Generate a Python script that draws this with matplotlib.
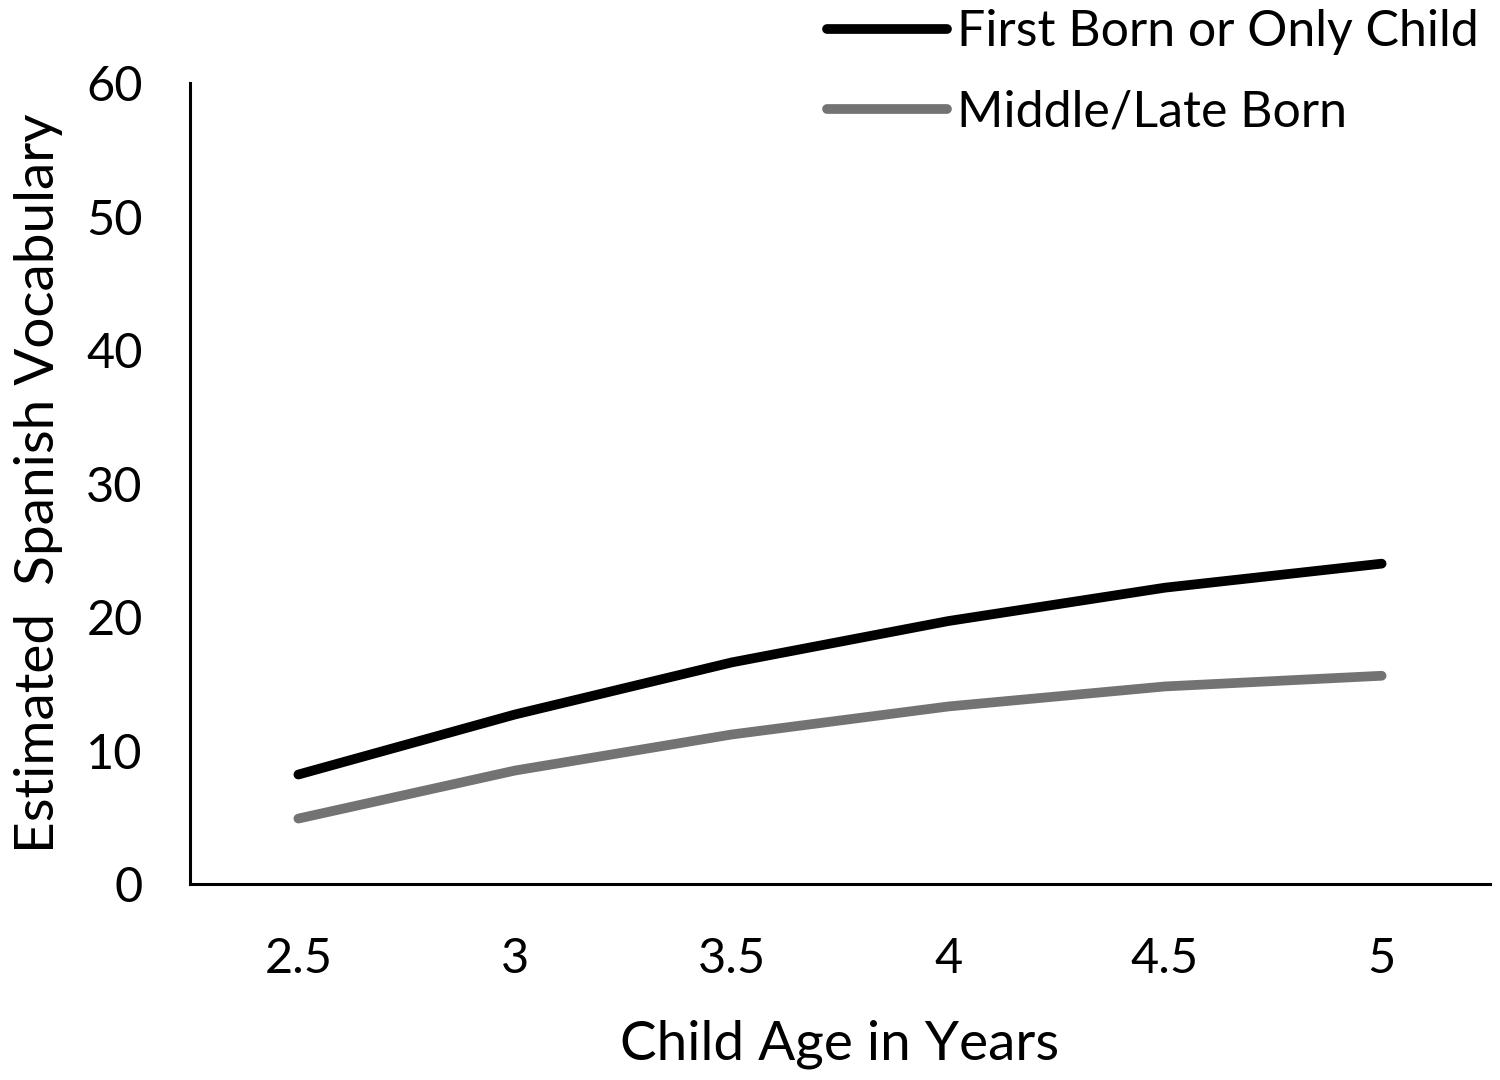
import numpy as np
import matplotlib.pyplot as plt

plt.rcParams['font.family'] = ['Lato', 'DejaVu Sans']

# data
ages = ['2.5', '3', '3.5', '4', '4.5', '5']
first_born = [8.2, 12.7, 16.6, 19.7, 22.2, 24.0]
middle_late = [4.9, 8.5, 11.2, 13.3, 14.8, 15.6]

fig = plt.figure(figsize=(15, 10.8), dpi=100)
ax = fig.add_axes([0.1267, 0.1815, 0.8666, 0.7415])

x = np.arange(len(ages))
l1, = ax.plot(x, first_born, color='black', lw=7, solid_capstyle='round',
              label='First Born or Only Child')
l2, = ax.plot(x, middle_late, color='#737373', lw=7, solid_capstyle='round',
              label='Middle/Late Born')

ax.set_xlim(-0.5, len(ages) - 0.5)
ax.set_ylim(0, 60)
ax.set_yticks(range(0, 61, 10))
ax.set_xticks(x)
ax.set_xticklabels(ages)

for s in ['top', 'right']:
    ax.spines[s].set_visible(False)
for s in ['left', 'bottom']:
    ax.spines[s].set_linewidth(2.2)
ax.tick_params(length=0, labelsize=35)
ax.tick_params(axis='y', pad=34)
ax.tick_params(axis='x', pad=38)

ax.set_xlabel('Child Age in Years', fontsize=39.5, labelpad=28)
ax.set_ylabel('Estimated  Spanish Vocabulary', fontsize=39.5, labelpad=17)

leg = fig.legend(handles=[l1, l2], loc='upper right', bbox_to_anchor=(1.016, 1.033),
                 frameon=False, fontsize=36, handlelength=2.4, handletextpad=0.2,
                 labelspacing=0.68)

fig.savefig('out.png', dpi=100)
